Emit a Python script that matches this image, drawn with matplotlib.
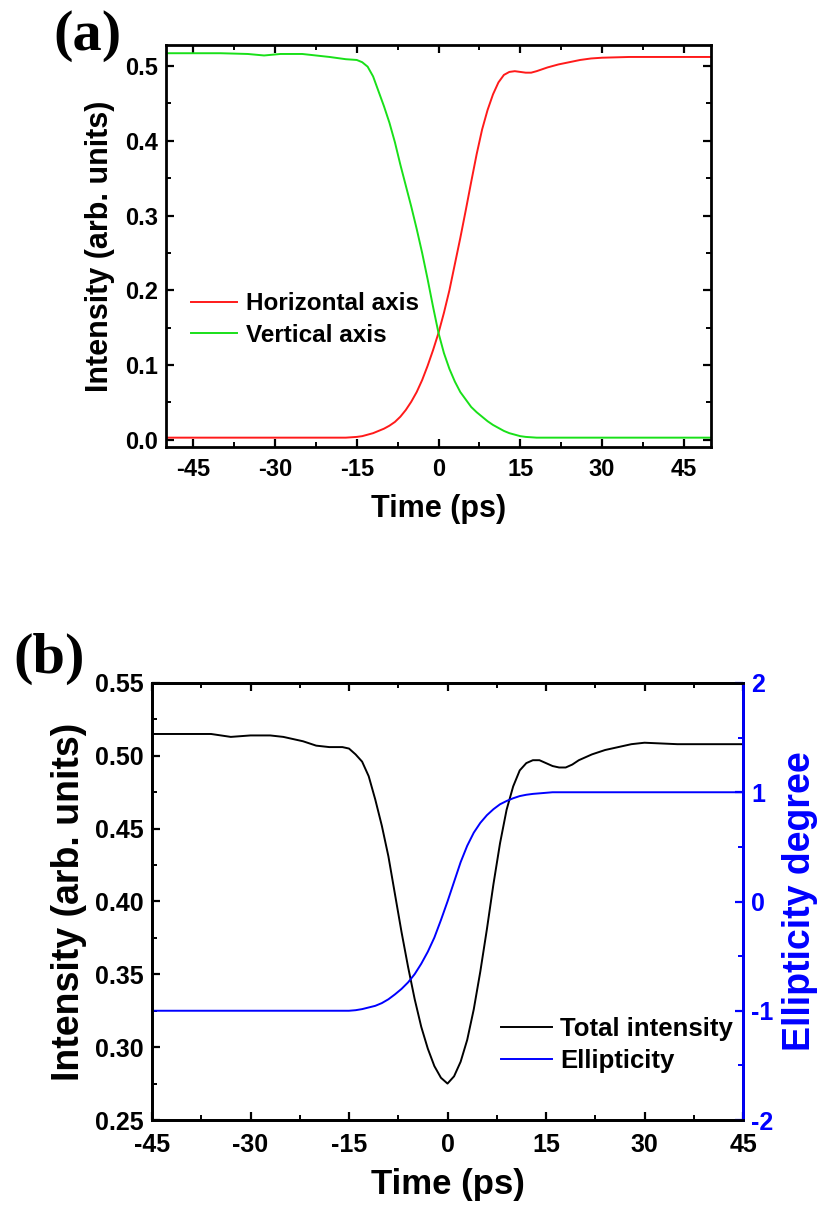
import matplotlib
matplotlib.use("Agg")
import matplotlib.pyplot as plt
from matplotlib.ticker import MultipleLocator

# ---------------- data ----------------
# panel (a)
time_a = [-50, -45, -40, -35, -32, -29, -25, -20, -17, -15, -14, -13, -12, -11, -10,
          -9, -8, -7, -6, -5, -4, -3, -2, -1, 0, 1, 2, 3, 4, 5, 6, 7, 8, 9, 10,
          11, 12, 13, 14, 15, 16, 17, 18, 20, 22, 24, 26, 28, 30, 35, 40, 45, 50]
horizontal = [0.003, 0.003, 0.003, 0.003, 0.003, 0.003, 0.003, 0.003, 0.003, 0.004,
              0.005, 0.007, 0.009, 0.012, 0.015, 0.019, 0.024, 0.031, 0.040, 0.051,
              0.064, 0.080, 0.099, 0.120, 0.143, 0.170, 0.200, 0.235, 0.270, 0.307,
              0.345, 0.382, 0.415, 0.441, 0.462, 0.478, 0.488, 0.492, 0.493, 0.492,
              0.491, 0.491, 0.493, 0.498, 0.502, 0.505, 0.508, 0.510, 0.511, 0.512,
              0.512, 0.512, 0.512]
vertical = [0.517, 0.517, 0.517, 0.516, 0.514, 0.516, 0.516, 0.512, 0.509, 0.508,
            0.505, 0.499, 0.486, 0.466, 0.446, 0.424, 0.398, 0.368, 0.340, 0.312,
            0.282, 0.250, 0.215, 0.178, 0.143, 0.116, 0.095, 0.078, 0.064, 0.054,
            0.044, 0.037, 0.031, 0.025, 0.020, 0.016, 0.012, 0.009, 0.007, 0.005,
            0.004, 0.0035, 0.003, 0.003, 0.003, 0.003, 0.003, 0.003, 0.003, 0.003,
            0.003, 0.003, 0.003]

# panel (b)
time_b = [-45, -40, -36, -33, -30, -27, -25, -22, -20, -18, -16, -15, -14, -13, -12,
          -11, -10, -9, -8, -7, -6, -5, -4, -3, -2, -1, 0, 1, 2, 3, 4, 5, 6, 7, 8,
          9, 10, 11, 12, 13, 14, 15, 16, 17, 18, 19, 20, 22, 24, 26, 28, 30, 35, 40, 45]
total_intensity = [0.515, 0.515, 0.515, 0.513, 0.514, 0.514, 0.513, 0.510, 0.507, 0.506,
                   0.506, 0.505, 0.501, 0.496, 0.486, 0.470, 0.452, 0.431, 0.405, 0.379,
                   0.355, 0.333, 0.314, 0.299, 0.287, 0.279, 0.275, 0.280, 0.290, 0.305,
                   0.326, 0.352, 0.381, 0.412, 0.440, 0.463, 0.479, 0.490, 0.495, 0.497,
                   0.497, 0.495, 0.493, 0.492, 0.492, 0.494, 0.497, 0.501, 0.504, 0.506,
                   0.508, 0.509, 0.508, 0.508, 0.508]
ellipticity = [-1.0, -1.0, -1.0, -1.0, -1.0, -1.0, -1.0, -1.0, -1.0, -1.0, -1.0, -1.0,
               -0.995, -0.985, -0.97, -0.955, -0.93, -0.895, -0.85, -0.80, -0.74, -0.665,
               -0.57, -0.46, -0.33, -0.17, 0.0, 0.18, 0.36, 0.51, 0.63, 0.72, 0.79,
               0.845, 0.89, 0.92, 0.945, 0.965, 0.977, 0.985, 0.99, 0.995, 1.0, 1.0,
               1.0, 1.0, 1.0, 1.0, 1.0, 1.0, 1.0, 1.0, 1.0, 1.0, 1.0]

xticks = [-45, -30, -15, 0, 15, 30, 45]

# ---------------- style ----------------
plt.rcParams["font.family"] = ["Liberation Sans", "DejaVu Sans"]
plt.rcParams["font.weight"] = "bold"
plt.rcParams["axes.labelweight"] = "bold"
plt.rcParams["axes.unicode_minus"] = False
plt.rcParams["lines.solid_joinstyle"] = "round"

W, H = 821, 1220
fig = plt.figure(figsize=(W / 100, H / 100), dpi=100)


def frac(x0, y0, x1, y1):
    return [x0 / W, 1 - y1 / H, (x1 - x0) / W, (y1 - y0) / H]


def style_ticks(ax, size):
    ax.tick_params(which="major", direction="in", length=6, width=1.6,
                   labelsize=size, top=True)
    ax.tick_params(which="minor", direction="in", length=3.5, width=1.4, top=True)
    for s in ax.spines.values():
        s.set_linewidth(2.0)


# ---------------- panel (a) ----------------
axa = fig.add_axes(frac(166, 45, 711, 447))
axa.plot(time_a, horizontal, color="#ff1a1a", lw=1.4, label="Horizontal axis")
axa.plot(time_a, vertical, color="#19e019", lw=1.4, label="Vertical axis")
axa.set_xlim(-50, 50)
axa.set_ylim(-0.0095, 0.528)
axa.set_xticks(xticks)
axa.xaxis.set_minor_locator(MultipleLocator(7.5))
axa.yaxis.set_minor_locator(MultipleLocator(0.05))
axa.set_yticks([0.0, 0.1, 0.2, 0.3, 0.4, 0.5])
axa.set_yticklabels(["0.0", "0.1", "0.2", "0.3", "0.4", "0.5"])
style_ticks(axa, 17)
axa.tick_params(which="both", right=True)
axa.tick_params(axis="x", pad=8)
axa.tick_params(axis="y", pad=6)
axa.set_xlabel("Time (ps)", fontsize=22, labelpad=9)
axa.set_ylabel("Intensity (arb. units)", fontsize=22, labelpad=7)
axa.legend(loc="upper left", bbox_to_anchor=(0.045, 0.385), frameon=False,
           fontsize=17.5, handlelength=1.9, handletextpad=0.4, labelspacing=0.35,
           borderpad=0, borderaxespad=0)
fig.text(53 / W, 1 - 50 / H, "(a)", fontsize=42, fontweight="bold",
         family=["Liberation Serif", "DejaVu Serif"], ha="left", va="baseline")

# ---------------- panel (b) ----------------
axb = fig.add_axes(frac(152, 683, 743, 1120))
l1, = axb.plot(time_b, total_intensity, color="black", lw=1.4, label="Total intensity")
axb.set_xlim(-45, 45)
axb.set_ylim(0.25, 0.55)
axb.set_xticks(xticks)
axb.xaxis.set_minor_locator(MultipleLocator(7.5))
axb.yaxis.set_minor_locator(MultipleLocator(0.025))
axb.set_yticks([0.25, 0.30, 0.35, 0.40, 0.45, 0.50, 0.55])
axb.set_yticklabels(["0.25", "0.30", "0.35", "0.40", "0.45", "0.50", "0.55"])
style_ticks(axb, 18)
axb.tick_params(which="both", right=False)
axb.tick_params(axis="x", pad=9)
axb.tick_params(axis="y", pad=6)
axb.set_xlabel("Time (ps)", fontsize=25, labelpad=8)
axb.set_ylabel("Intensity (arb. units)", fontsize=27, labelpad=6)

axr = axb.twinx()
l2, = axr.plot(time_b, ellipticity, color="#0000ff", lw=1.4, label="Ellipticity")
axr.set_ylim(-2, 2)
axr.yaxis.set_major_locator(MultipleLocator(1))
axr.yaxis.set_minor_locator(MultipleLocator(0.5))
axr.tick_params(which="major", direction="in", length=6, width=1.6, labelsize=18,
                colors="#0000ff", pad=6)
axr.tick_params(which="minor", direction="in", length=3.5, width=1.4, colors="#0000ff")
for s in axr.spines.values():
    s.set_linewidth(2.0)
axr.spines["right"].set_color("#0000ff")
axr.set_ylabel("Ellipticity degree", fontsize=27, color="#0000ff", labelpad=6)
axr.legend(handles=[l1, l2], loc="upper left", bbox_to_anchor=(0.59, 0.235),
           frameon=False, fontsize=18.5, handlelength=2.0, handletextpad=0.3,
           labelspacing=0.3, borderpad=0, borderaxespad=0)
fig.text(13 / W, 1 - 673 / H, "(b)", fontsize=42, fontweight="bold",
         family=["Liberation Serif", "DejaVu Serif"], ha="left", va="baseline")

fig.savefig("out.png", dpi=100)
